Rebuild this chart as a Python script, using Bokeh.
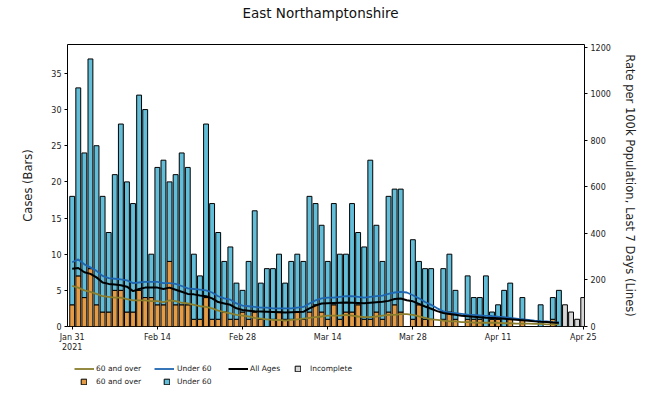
import pandas as pd
from bokeh.plotting import figure
from bokeh.layouts import column
from bokeh.models import (ColumnDataSource, Range1d, LinearAxis, FixedTicker,
                          Legend, LegendItem, Label)
from bokeh.embed import file_html
from bokeh.resources import INLINE

# ---------------- data ----------------
title_text = "East Northamptonshire"
start_date = "2021-01-31"
cases_60_and_over = [3, 7, 4, 8, 3, 2, 2, 5, 5, 2,
                     2, 5, 4, 4, 3, 3, 9, 3, 3, 3,
                     1, 1, 4, 1, 1, 2, 1, 1, 2, 1,
                     2, 1, 0, 1, 2, 1, 1, 2, 1, 2,
                     3, 2, 1, 3, 1, 2, 2, 3, 1, 1,
                     2, 1, 2, 3, 2, 0, 1, 3, 1, 1,
                     0, 1, 2, 1, 0, 1, 1, 1, 0, 1,
                     1, 0, 1, 0, 1, 0, 0, 0, 0, 1, 0]
cases_under_60 = [15, 26, 20, 29, 22, 16, 11, 16, 23, 18,
                  15, 27, 26, 6, 19, 20, 11, 18, 21, 19,
                  9, 6, 24, 16, 12, 7, 10, 5, 3, 8,
                  14, 5, 8, 7, 8, 5, 8, 8, 8, 16,
                  14, 12, 8, 14, 9, 8, 15, 10, 10, 22,
                  12, 8, 16, 16, 17, 0, 11, 6, 7, 7,
                  0, 7, 8, 4, 0, 6, 3, 3, 7, 1,
                  2, 5, 5, 0, 3, 0, 0, 3, 0, 3, 5]
incomplete_dates = ["2021-04-22", "2021-04-23", "2021-04-24", "2021-04-25"]
incomplete_cases = [3, 2, 1, 4]
rate_60_and_over = [174, 167, 155, 149, 140, 130, 127, 124, 124, 118,
                    112, 112, 112, 109, 109, 105, 112, 109, 102, 99,
                    93, 87, 84, 78, 68, 62, 56, 50, 47, 43,
                    37, 34, 31, 28, 28, 25, 28, 31, 34, 37,
                    40, 43, 47, 47, 47, 50, 47, 43, 40, 40,
                    43, 47, 50, 50, 53, 53, 50, 43, 37, 31,
                    28, 25, 22, 22, 19, 19, 17, 16, 16, 16,
                    16, 14, 14, 12, 12, 12, 11, 11, 9, 9, 9]
rate_under_60 = [276, 288, 267, 254, 239, 217, 208, 205, 202, 198,
                 186, 189, 192, 192, 192, 186, 186, 183, 174, 164,
                 161, 158, 155, 146, 130, 121, 115, 99, 90, 87,
                 84, 81, 81, 78, 78, 78, 78, 81, 84, 99,
                 112, 121, 124, 124, 127, 130, 130, 127, 124, 127,
                 130, 133, 140, 146, 149, 146, 134, 121, 105, 93,
                 78, 65, 60, 57, 54, 51, 50, 48, 46, 45,
                 42, 40, 37, 34, 31, 28, 25, 23, 22, 19, 17]
rate_all_ages = [248, 251, 233, 226, 211, 189, 183, 180, 177, 171,
                 152, 161, 167, 167, 167, 161, 167, 158, 149, 140,
                 138, 133, 130, 121, 105, 99, 93, 78, 71, 68,
                 65, 64, 63, 62, 61, 60, 61, 62, 63, 78,
                 90, 99, 100, 101, 102, 103, 102, 101, 100, 102,
                 104, 106, 110, 118, 120, 113, 108, 97, 86, 76,
                 66, 58, 54, 50, 46, 44, 42, 40, 38, 37,
                 35, 33, 31, 29, 27, 25, 22, 20, 19, 17, 16]
xtick_dates = ["2021-01-31", "2021-02-14", "2021-02-28", "2021-03-14",
               "2021-03-28", "2021-04-11", "2021-04-25"]
xtick_labels = ["Jan 31\n2021", "Feb 14", "Feb 28", "Mar 14",
                "Mar 28", "Apr 11", "Apr 25"]
case_ticks = [0, 5, 10, 15, 20, 25, 30, 35]
rate_ticks = [0, 200, 400, 600, 800, 1000, 1200]

# ---------------- styling ----------------
FONT = "DejaVu Sans"
ORANGE = "#E39B45"
LIGHTBLUE = "#62BED8"
GREY = "#D6D6D6"
LINE60 = "#8A7D2C"
LINEU60 = "#1F66B0"
DAY_MS = 86400000
W = 651
FRAME_L, FRAME_R = 67, 584
TITLE_H, MAIN_H, LEG_H = 26, 329, 38


def blank_fig(h):
    # frames of a column layout line up with the main chart's frame (x 67..584)
    f = figure(width=W, height=h, x_range=Range1d(FRAME_L, FRAME_R), y_range=Range1d(0, h),
               x_axis_location=None, y_axis_location=None, output_backend="svg",
               toolbar_location=None, min_border=0)
    f.outline_line_color = None
    f.grid.visible = False
    return f


# ---------------- main chart ----------------
dates = pd.date_range(start_date, periods=len(cases_60_and_over), freq="D")
src = ColumnDataSource(dict(date=dates, over=cases_60_and_over, under=cases_under_60,
                            r60=rate_60_and_over, ru60=rate_under_60, rall=rate_all_ages))
inc_src = ColumnDataSource(dict(date=pd.to_datetime(incomplete_dates), cases=incomplete_cases))

t0 = pd.Timestamp(start_date)
p = figure(width=W, height=MAIN_H, x_axis_type="datetime",
           x_range=Range1d(t0 - pd.Timedelta(hours=18.5), t0 + pd.Timedelta(days=84, hours=5)),
           y_range=Range1d(0, 39),
           output_backend="svg", toolbar_location=None,
           min_border_left=FRAME_L, min_border_right=W - FRAME_R,
           min_border_top=18, min_border_bottom=25)
p.extra_y_ranges = {"rate": Range1d(0, 1211)}
p.grid.visible = False
p.outline_line_color = "black"
p.outline_line_width = 1

bw = 0.8 * DAY_MS
bar_style = dict(line_color="black", line_width=1)
p.vbar_stack(["over", "under"], x="date", width=bw, source=src,
             fill_color=[ORANGE, LIGHTBLUE], **bar_style)
p.vbar(x="date", top="cases", width=bw, source=inc_src, fill_color=GREY, **bar_style)
p.line("date", "r60", source=src, y_range_name="rate", color=LINE60, line_width=1.8)
p.line("date", "ru60", source=src, y_range_name="rate", color=LINEU60, line_width=1.8)
p.line("date", "rall", source=src, y_range_name="rate", color="black", line_width=2)

tick_ms = [pd.Timestamp(d).value // 10**6 for d in xtick_dates]
p.xaxis.ticker = FixedTicker(ticks=tick_ms)
p.xaxis.major_label_overrides = {t: lab for t, lab in zip(tick_ms, xtick_labels)}
p.yaxis.ticker = FixedTicker(ticks=case_ticks)
p.yaxis.axis_label = "Cases (Bars)"

ax_r = LinearAxis(y_range_name="rate", ticker=FixedTicker(ticks=rate_ticks),
                  axis_label="Rate per 100k Population, Last 7 Days (Lines)")
p.add_layout(ax_r, "right")

for ax in p.axis:
    ax.major_label_text_font = FONT
    ax.major_label_text_font_size = "8px"
    ax.major_label_text_color = "#222222"
    ax.axis_label_text_font = FONT
    ax.axis_label_text_font_size = "11.5px"
    ax.axis_label_text_font_style = "normal"
    ax.axis_label_text_color = "#222222"
    ax.major_tick_in = 0
    ax.major_tick_out = 3
    ax.minor_tick_line_color = None
    ax.axis_line_color = None
    ax.major_label_standoff = 3
p.yaxis[0].axis_label_standoff = 13
ax_r.axis_label_standoff = 9

# ---------------- title strip ----------------
tfig = blank_fig(TITLE_H)
tfig.add_layout(Label(x=320, y=TITLE_H - 12, text=title_text, text_align="center",
                      text_baseline="middle", text_font=FONT, text_font_size="13.5px",
                      text_color="#111111"))

# ---------------- legend strip ----------------
# hidden legend-only renderers (same styles as the chart's marks)
lfig = blank_fig(LEG_H)
g_l60 = lfig.line("date", "r60", source=src, color=LINE60, line_width=1.8)
g_lu60 = lfig.line("date", "ru60", source=src, color=LINEU60, line_width=1.8)
g_lall = lfig.line("date", "rall", source=src, color="black", line_width=2)
g_inc = lfig.vbar(x="date", top="cases", width=bw, source=inc_src, fill_color=GREY, **bar_style)
g_b60 = lfig.vbar(x="date", top="over", width=bw, source=src, fill_color=ORANGE, **bar_style)
g_bu60 = lfig.vbar(x="date", top="under", width=bw, source=src, fill_color=LIGHTBLUE, **bar_style)
for r in (g_l60, g_lu60, g_lall, g_inc, g_b60, g_bu60):
    r.visible = False


def add_item(label, rend, page_x, y, gw, standoff):
    lg = Legend(items=[LegendItem(label=label, renderers=[rend])],
                location=(page_x - FRAME_L, y),
                glyph_width=gw, glyph_height=7, label_standoff=standoff,
                label_text_font=FONT, label_text_font_size="7.5px", label_height=9,
                label_text_color="#222222", click_policy="none",
                padding=0, margin=0, spacing=0,
                border_line_color=None, background_fill_alpha=0)
    lfig.add_layout(lg, "center")


ROW1, ROW2 = 20, 7
add_item("60 and over", g_l60, 74, ROW1, 20, 2)
add_item("Under 60", g_lu60, 154, ROW1, 20, 3)
add_item("All Ages", g_lall, 228, ROW1, 20, 2)
add_item("Incomplete", g_inc, 294, ROW1, 7, 9)
add_item("60 and over", g_b60, 80, ROW2, 7, 9)
add_item("Under 60", g_bu60, 163, ROW2, 7, 7)

layout = column(tfig, p, lfig, spacing=0)
open("out.html", "w").write(file_html(layout, INLINE))
